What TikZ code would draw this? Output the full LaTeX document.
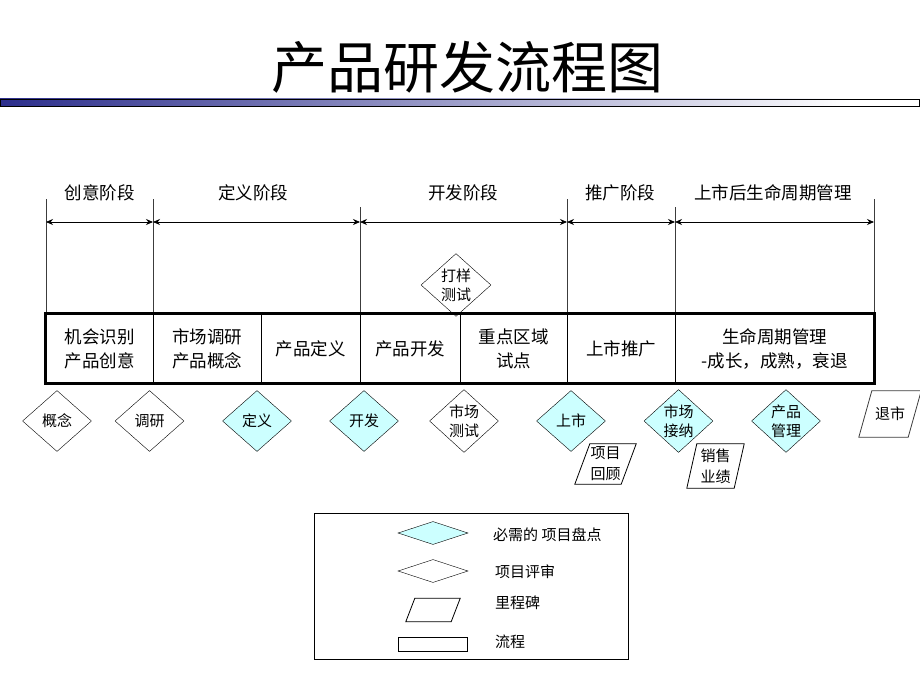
\documentclass[tikz,border=0pt]{standalone}
\usepackage{fontspec}
\setmainfont{Noto Sans CJK SC}
\usetikzlibrary{shapes.geometric,arrows.meta}
\definecolor{gatecyan}{RGB}{204,255,255}
\definecolor{barblue}{RGB}{44,46,140}
\definecolor{linegray}{RGB}{60,60,60}
\newcommand\drawpara[3][]{\draw[line width=0.8pt,#1] ([xshift=#3]#2.north west) -- (#2.north east) -- ([xshift=-#3]#2.south east) -- (#2.south west) -- cycle;}
\begin{document}
\begin{tikzpicture}[x=1pt,y=-1pt,
  phase/.style={font=\fontsize{17.5}{20}\selectfont, inner sep=0pt},
  cell/.style={draw, line width=0.8pt, minimum height=69pt, inner sep=0pt, align=center, font=\fontsize{17.5}{24}\selectfont},
  review/.style={diamond, draw, fill=white, minimum width=69pt, minimum height=61pt, inner sep=0pt, align=center, font=\fontsize{15}{19}\selectfont},
  gate/.style={review, fill=gatecyan},
  mile/.style={inner sep=0pt, align=center, font=\fontsize{15}{21}\selectfont},
  legtext/.style={anchor=west, inner sep=0pt, font=\fontsize{15}{17}\selectfont},
  span/.style={{Stealth[length=7pt,width=6pt]}-{Stealth[length=7pt,width=6pt]}, line width=0.8pt},
  sep/.style={line width=0.8pt, draw=linegray}
]
\useasboundingbox (0,0) rectangle (920,690);

% title
\node[font=\fontsize{56}{60}\selectfont, inner sep=0pt] (title) at (467,67) {产品研发流程图};
\shade[left color=barblue, right color=white] (0,99) rectangle (850,106);
\fill[white] (850,99) rectangle (920,106);
\draw[line width=0.8pt] (0,99) rectangle (919.5,106);

% phase separators
\foreach \n/\x/\t in {a/46/199, b/153/199, c/360/207, d/567/199, e/675/207, f/874/199}{
  \coordinate (top\n) at (\x,\t);
  \coordinate (arr\n) at (\x,222);
  \coordinate (bot\n) at (\x,314);
  \draw[sep] (top\n) -- (bot\n);
}
\draw[span] (arra) -- (arrb);
\draw[span] (arrb) -- (arrc);
\draw[span] (arrc) -- (arrd);
\draw[span] (arrd) -- (arre);
\draw[span] (arre) -- (arrf);

\node[phase] (p1) at (99.5,193) {创意阶段};
\node[phase] (p2) at (253,193) {定义阶段};
\node[phase] (p3) at (463,193) {开发阶段};
\node[phase] (p4) at (620,193) {推广阶段};
\node[phase] (p5) at (773,193) {上市后生命周期管理};

% sample-testing review
\node[review, minimum width=70pt, minimum height=61pt] (dy) at (456,285) {打样\\测试};

% process cells
\node[cell, minimum width=107pt] (c1) at (99.5,348.5) {机会识别\\产品创意};
\node[cell, minimum width=108pt] (c2) at (207,348.5) {市场调研\\产品概念};
\node[cell, minimum width=99pt] (c3) at (310.5,348.5) {产品定义};
\node[cell, minimum width=100pt] (c4) at (410,348.5) {产品开发};
\node[cell, minimum width=107pt] (c5) at (513.5,348.5) {重点区域\\试点};
\node[cell, minimum width=108pt] (c6) at (621,348.5) {上市推广};
\node[cell, minimum width=199pt] (c7) at (774.5,348.5) {生命周期管理\\-成长，成熟，衰退};
\draw[line width=3pt] (c1.north west) rectangle (c7.south east);

% reviews and gates
\node[review] (g1) at (57,421) {概念};
\node[review] (g2) at (149.5,421) {调研};
\node[gate] (g3) at (257,421) {定义};
\node[gate] (g4) at (364,421) {开发};
\node[review] (g5) at (464,421) {市场\\测试};
\node[gate] (g6) at (571,421) {上市};
\node[gate] (g7) at (678.5,421) {市场\\接纳};
\node[gate] (g8) at (786,421) {产品\\管理};

% milestones
\node[mile, minimum width=61pt, minimum height=40pt] (m1) at (605.5,464) {};
\drawpara[fill=white]{m1}{15pt}
\node[mile] at (m1) {项目\\回顾};
\node[mile, minimum width=57pt, minimum height=44pt] (m2) at (715.5,466) {};
\drawpara[fill=white]{m2}{10pt}
\node[mile] at (m2) {销售\\业绩};
\node[mile, minimum width=62pt, minimum height=46pt] (m3) at (890,414) {};
\drawpara[draw=linegray, fill=white]{m3}{13pt}
\node[mile] at (m3) {退市};

% legend
\node[draw, line width=0.8pt, minimum width=314pt, minimum height=146pt, inner sep=0pt] (legend) at (471,586) {};
\node[diamond, draw, fill=gatecyan, minimum width=70pt, minimum height=23pt, inner sep=0pt] (l1) at (433,533) {};
\node[diamond, draw, fill=white, minimum width=70pt, minimum height=23pt, inner sep=0pt] (l2) at (433,571) {};
\node[minimum width=54pt, minimum height=23pt, inner sep=0pt] (l3) at (433,610) {};
\drawpara{l3}{9pt}
\node[draw, minimum width=69pt, minimum height=14pt, inner sep=0pt] (l4) at (432.5,644) {};
\node[legtext] (t1) at (493,535) {必需的 项目盘点};
\node[legtext] (t2) at (495,572) {项目评审};
\node[legtext] (t3) at (495,603) {里程碑};
\node[legtext] (t4) at (495,642) {流程};
\end{tikzpicture}
\end{document}
